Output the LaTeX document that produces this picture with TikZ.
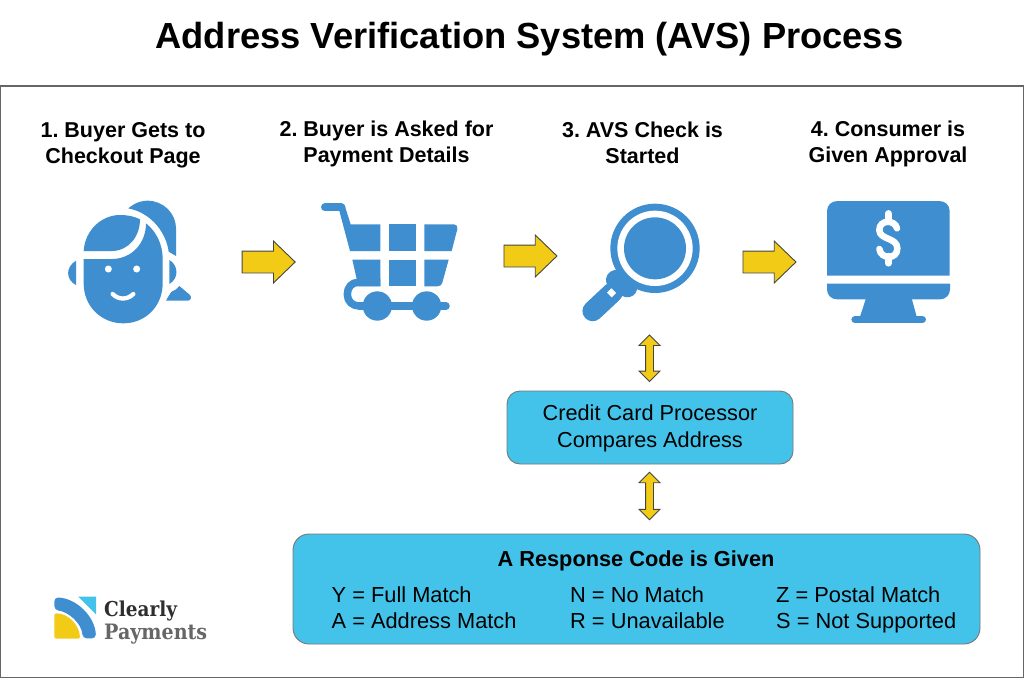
\documentclass[tikz,border=0pt]{standalone}
\usepackage{fontspec}
\setmainfont{Liberation Sans}
\newfontfamily\logofont{DejaVu Serif Condensed}
\usetikzlibrary{shapes.arrows}
\definecolor{iconblue}{HTML}{3F8FD0}
\definecolor{arrowyellow}{HTML}{F2CB17}
\definecolor{boxcyan}{HTML}{44C3EA}
\definecolor{framegray}{HTML}{666666}
\definecolor{boxedge}{HTML}{777777}
\definecolor{arrowedge}{HTML}{444444}
\tikzset{
  icon/.style={fill=iconblue,draw=none},
  iconline/.style={draw=iconblue,line cap=round,line join=round},
  blockarrow/.style={single arrow,draw=arrowedge,fill=arrowyellow,line width=0.9pt,inner sep=0pt,
     minimum height=53pt,single arrow head extend=10pt,single arrow tip angle=88,anchor=tail},
  updown/.style={double arrow,draw=arrowedge,fill=arrowyellow,line width=0.9pt,inner sep=0pt,rotate=90,
     double arrow head extend=6.5pt,double arrow tip angle=90},
  bluebox/.style={draw=boxedge,fill=boxcyan,line width=0.9pt,inner sep=0pt},
  steplabel/.style={font=\frenchspacing\bfseries\fontsize{21.5}{26}\selectfont,align=center,text=black},
  boxtext/.style={font=\fontsize{21.7}{27}\selectfont,align=center,text=black},
  codetext/.style={font=\fontsize{21.8}{26}\selectfont,anchor=base west,text=black,inner sep=0pt},
  zoomed/.style={x=0.33333pt,y=-0.33333pt}
}
\begin{document}
\begin{tikzpicture}[x=1pt,y=-1pt]
\useasboundingbox (0,0) rectangle (1024,678);
\fill[white] (0,0) rectangle (1024,678);
\draw[framegray,line width=1.1pt] (0.6,86) rectangle (1023.4,677.4);
\node[font=\bfseries\fontsize{36.3}{40}\selectfont,text=black] (title) at (529.5,39) {Address Verification System (AVS) Process};

\node[steplabel] (s1) at (123,145) {1. Buyer Gets to\\Checkout Page};
\node[steplabel] (s2) at (386.5,144) {2. Buyer is Asked for\\Payment Details};
\node[steplabel] (s3) at (642.5,143) {3. AVS Check is\\Started};
\node[steplabel] (s4) at (888,144) {4. Consumer is\\Given Approval};

% person
\begin{scope}[shift={(40,180)},zoomed]
\fill[icon] (131,213) .. controls (135,150) and (185,105) .. (240,105) .. controls (265,105) and (285,110) .. (300,118)
  .. controls (300,170) and (265,213) .. (215,213) -- cycle;
\fill[icon] (131,237) -- (215,237) .. controls (275,237) and (318,190) .. (318,130)
  .. controls (350,155) and (368,195) .. (368,235) -- (368,310) .. controls (368,380) and (315,430) .. (250,430)
  .. controls (185,430) and (131,380) .. (131,310) -- cycle;
\fill[white] (205,267) circle[radius=10.5] (290,267) circle[radius=10.5];
\draw[white,line width=4.3pt,line cap=round] (218,342) .. controls (235,360) and (262,360) .. (280,342);
\fill[icon] (108,242) .. controls (75,262) and (78,300) .. (108,315) -- cycle;
\fill[icon] (388,240) .. controls (415,255) and (418,295) .. (388,312) -- cycle;
\fill[icon] (265,85) .. controls (285,68) and (305,62) .. (322,62) .. controls (370,62) and (408,100) .. (408,145)
  -- (408,228) -- (386,215) .. controls (380,165) and (340,100) .. (265,85) -- cycle;
\fill[icon] (378,362) .. controls (385,350) and (390,340) .. (395,335) .. controls (405,332) and (412,326) .. (418,318)
  -- (450,345) .. controls (456,352) and (452,362) .. (443,362) -- cycle;
\end{scope}

% cart
\begin{scope}[shift={(300,180)},zoomed]
\draw[iconline,line width=8pt] (75,82) -- (124,82);
\fill[icon] (116,85) -- (134,76) -- (152,133) -- (241,133) -- (241,213) -- (150,213) -- cycle;
\fill[icon] (266,133) rectangle (348,213);
\fill[icon] (373,133) -- (462,133) .. controls (470,133) and (474,140) .. (472,147) -- (455,213) -- (373,213) -- cycle;
\fill[icon] (157,239) -- (241,239) -- (241,319) -- (175,319) -- cycle;
\fill[icon] (266,239) rectangle (348,319);
\fill[icon] (373,239) -- (446,239) -- (427,308) .. controls (425,315) and (420,319) .. (413,319) -- (373,319) -- cycle;
\draw[iconline,line width=7.5pt,line cap=butt] (241,307) -- (175,307) .. controls (155,307) and (142,322) .. (142,343) .. controls (142,364) and (157,378) .. (178,378);
\draw[iconline,line width=7.5pt] (178,378) -- (438,378);
\fill[icon] (232,378) circle[radius=44] (380,378) circle[radius=44];
\end{scope}

% magnifier
\begin{scope}[shift={(570,180)},zoomed]
\draw[iconline,line width=20.5pt] (68,393) -- (128,337);
\draw[iconline,line width=20pt] (138,300) -- (172,322);
\fill[icon] (255,205) circle[radius=134];
\fill[white] (255,205) circle[radius=113];
\fill[icon] (255,205) circle[radius=93];
\fill[white] (124,325) -- (138,339) -- (125,352) -- (111,338) -- cycle;
\end{scope}

% monitor
\begin{scope}[shift={(570,180)},zoomed]
\fill[icon] (771,287) -- (771,93) .. controls (771,75) and (785,63) .. (803,63) -- (1107,63) .. controls (1125,63) and (1139,75) .. (1139,93) -- (1139,287) -- cycle;
\fill[icon] (771,311) -- (1140,311) -- (1140,328) .. controls (1140,345) and (1127,358) .. (1110,358) -- (801,358) .. controls (784,358) and (771,345) .. (771,328) -- cycle;
\fill[icon] (888,355) -- (870,410) -- (1040,410) -- (1025,355) -- cycle;
\draw[iconline,line width=7.3pt] (855,419) -- (1057,419);
\draw[white,line width=6.5pt,line cap=round] (981,145) .. controls (975,118) and (928,118) .. (928,150) .. controls (928,180) and (982,172) .. (982,205) .. controls (982,240) and (932,238) .. (928,207);
\draw[white,line width=6.5pt,line cap=round] (955,100) -- (955,122) (955,228) -- (955,250);
\end{scope}

% arrows
\node[blockarrow] (a1) at (241.7,262) {\rule{0pt}{21pt}};
\node[blockarrow] (a2) at (503.5,256) {\rule{0pt}{21pt}};
\node[blockarrow] (a3) at (742.5,262) {\rule{0pt}{21pt}};
\node[updown,minimum height=46.5pt] (a4) at (649.5,358.3) {\rule{0pt}{7pt}};
\node[updown,minimum height=47.5pt] (a5) at (649.5,496) {\rule{0pt}{7pt}};

% boxes
\node[bluebox,rounded corners=13pt,minimum width=286pt,minimum height=73pt] (b1) at (650,427.5) {};
\node[boxtext] (b1t) at (650,428) {Credit Card Processor\\Compares Address};
\node[bluebox,rounded corners=16pt,minimum width=687pt,minimum height=110pt] (b2) at (636.5,589) {};
\node[font=\bfseries\fontsize{21.75}{26}\selectfont,text=black] (b2t) at (636,561) {A Response Code is Given};
\node[codetext] (c1) at (331.5,602) {Y = Full Match};
\node[codetext] (c2) at (331.5,628) {A = Address Match};
\node[codetext] (c3) at (570,602) {N = No Match};
\node[codetext] (c4) at (570,628) {R = Unavailable};
\node[codetext] (c5) at (776,602) {Z = Postal Match};
\node[codetext] (c6) at (776,628) {S = Not Supported};

% logo
\begin{scope}[shift={(40,580)},zoomed]
\fill[iconblue,rounded corners=4pt] (43,52) .. controls (110,55) and (165,110) .. (168,175) -- (128,175) .. controls (125,130) and (85,95) .. (43,90) -- cycle;
\fill[arrowyellow,rounded corners=2pt] (43,100) .. controls (85,100) and (118,135) .. (120,176) -- (43,176) -- cycle;
\fill[boxcyan] (115,50) -- (168,50) -- (168,103) -- cycle;
\end{scope}
\node[font=\logofont\bfseries\fontsize{20.5}{20}\selectfont,text=black!82,anchor=base west,inner sep=0pt] (l1) at (104,616) {Clearly};
\node[font=\logofont\bfseries\fontsize{21.2}{20}\selectfont,text=black!60,anchor=base west,inner sep=0pt] (l2) at (104,639) {Payments};
\end{tikzpicture}
\end{document}
